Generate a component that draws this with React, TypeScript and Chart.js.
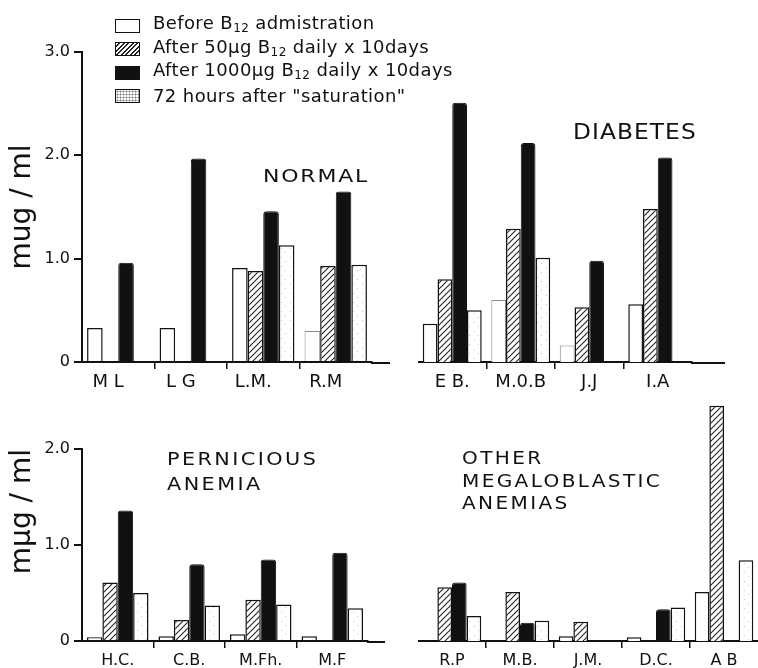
import React, { useEffect, useRef } from 'react';
import { Chart, registerables } from 'chart.js';

Chart.register(...registerables);

// ---------- data ----------
const seriesNames = [
  'Before B12 admistration',
  'After 50μg B12 daily x 10days',
  'After 1000μg B12 daily x 10days',
  '72 hours after "saturation"',
];

const normalLabels = ['M L', 'L G', 'L.M.', 'R.M'];
const normalBefore = [0.33, 0.33, 0.91, 0.3];
const normalAfter50 = [null, null, 0.88, 0.93];
const normalAfter1000 = [0.96, 1.97, 1.46, 1.65];
const normalSaturation = [null, null, 1.13, 0.94];

const diabetesLabels = ['E B.', 'M.0.B', 'J.J', 'I.A'];
const diabetesBefore = [0.37, 0.6, 0.16, 0.56];
const diabetesAfter50 = [0.8, 1.29, 0.53, 1.48];
const diabetesAfter1000 = [2.51, 2.12, 0.98, 1.98];
const diabetesSaturation = [0.5, 1.01, null, null];

const perniciousLabels = ['H.C.', 'C.B.', 'M.Fh.', 'M.F'];
const perniciousBefore = [0.04, 0.05, 0.07, 0.05];
const perniciousAfter50 = [0.61, 0.22, 0.43, null];
const perniciousAfter1000 = [1.36, 0.8, 0.85, 0.92];
const perniciousSaturation = [0.5, 0.37, 0.38, 0.34];

const otherLabels = ['R.P', 'M.B.', 'J.M.', 'D.C.', 'A B'];
const otherBefore = [null, null, 0.05, 0.04, 0.51];
const otherAfter50 = [0.56, 0.51, 0.2, null, 2.45];
const otherAfter1000 = [0.61, 0.19, null, 0.33, null];
const otherSaturation = [0.26, 0.21, null, 0.35, 0.84];

// "before" bars drawn with a faint (dotted) outline in the original
const faintBefore = ['R.M', 'M.0.B', 'J.J'];

const topTickLabels = ['0', '1.0', '2.0', '3.0'];
const bottomTickLabels = ['0', '1.0', '2.0'];
const topMax = 3;
const bottomMax = 2;
const otherMax = 2.5;
const topTitle = 'mug / ml';
const bottomTitle = 'mμg / ml';

// ---------- helpers ----------
const INK = '#111';
const FONT = "'DejaVu Sans', sans-serif";

function makeHatch(): CanvasPattern | string {
  const c = document.createElement('canvas');
  c.width = 6;
  c.height = 6;
  const x = c.getContext('2d');
  if (!x) return '#888';
  x.fillStyle = '#fff';
  x.fillRect(0, 0, 6, 6);
  x.strokeStyle = '#222';
  x.lineWidth = 1.1;
  x.beginPath();
  x.moveTo(0, 6);
  x.lineTo(6, 0);
  x.moveTo(-1, 1);
  x.lineTo(1, -1);
  x.moveTo(5, 7);
  x.lineTo(7, 5);
  x.stroke();
  return x.createPattern(c, 'repeat') || '#888';
}

function makeStipple(): CanvasPattern | string {
  const c = document.createElement('canvas');
  c.width = 9;
  c.height = 9;
  const x = c.getContext('2d');
  if (!x) return '#fff';
  x.fillStyle = '#fff';
  x.fillRect(0, 0, 9, 9);
  x.fillStyle = '#c8c8c8';
  x.fillRect(2, 3, 1, 1);
  x.fillRect(6, 7, 1, 1);
  return x.createPattern(c, 'repeat') || '#fff';
}

const axisExtend = {
  id: 'axisExtend',
  afterDraw(chart: any, _args: any, opts: any) {
    const len = opts && opts.length;
    if (!len) return;
    const { ctx, chartArea } = chart;
    ctx.save();
    ctx.strokeStyle = INK;
    ctx.lineWidth = 2;
    ctx.beginPath();
    ctx.moveTo(chartArea.right - 1, chartArea.bottom + 1);
    ctx.lineTo(chartArea.right + len, chartArea.bottom + 1);
    ctx.stroke();
    ctx.restore();
  },
};

interface PanelSpec {
  labels: string[];
  before: (number | null)[];
  after50: (number | null)[];
  after1000: (number | null)[];
  saturation: (number | null)[];
  yMax: number;
  tickLabels: string[];
  showY: boolean;
  yTitle: string;
  titleAlign: 'center' | 'end' | 'start';
  extend: number;
  padTop: number;
  padRight: number;
  xHeight: number;
  xFontSize: number;
  labelOffset: number;
}

function buildConfig(p: PanelSpec, hatch: any, stipple: any): any {
  const isFaint = (i: number) => faintBefore.includes(p.labels[i]);
  return {
    type: 'bar',
    data: {
      labels: p.labels,
      datasets: [
        {
          label: seriesNames[0],
          data: p.before,
          backgroundColor: '#fff',
          borderColor: (c: any) => (isFaint(c.dataIndex) ? '#8a8a8a' : INK),
          borderWidth: (c: any) => (isFaint(c.dataIndex) ? 1 : 1.5),
        },
        {
          label: seriesNames[1],
          data: p.after50,
          backgroundColor: hatch,
          borderColor: INK,
          borderWidth: 1.5,
        },
        {
          label: seriesNames[2],
          data: p.after1000,
          backgroundColor: INK,
          borderColor: INK,
          borderWidth: 1,
          borderRadius: { topLeft: 3, topRight: 3, bottomLeft: 0, bottomRight: 0 },
        },
        {
          label: seriesNames[3],
          data: p.saturation,
          backgroundColor: stipple,
          borderColor: INK,
          borderWidth: 1.5,
        },
      ],
    },
    options: {
      animation: false,
      responsive: false,
      devicePixelRatio: 1,
      layout: { padding: { top: p.padTop, right: p.padRight, left: 0, bottom: 0 } },
      datasets: { bar: { categoryPercentage: 0.86, barPercentage: 1.0 } },
      plugins: {
        legend: { display: false },
        tooltip: { enabled: false },
        axisExtend: { length: p.extend },
      },
      scales: {
        x: {
          type: 'category',
          offset: true,
          border: { display: true, color: INK, width: 2 },
          grid: {
            display: true,
            offset: true,
            drawOnChartArea: false,
            drawTicks: true,
            tickLength: 7,
            lineWidth: 1.5,
            color: (c: any) => (c.type === 'tick' && c.index > 0 ? INK : 'rgba(0,0,0,0)'),
          },
          ticks: {
            color: INK,
            font: { family: FONT, size: p.xFontSize },
            padding: 3,
            labelOffset: p.labelOffset,
            maxRotation: 0,
            autoSkip: false,
          },
          afterFit: (s: any) => {
            s.height = p.xHeight;
          },
        },
        y: {
          display: p.showY,
          min: 0,
          max: p.yMax,
          border: { display: true, color: INK, width: 2 },
          grid: {
            display: true,
            drawOnChartArea: false,
            drawTicks: true,
            tickLength: 8,
            lineWidth: 2,
            color: INK,
          },
          ticks: {
            stepSize: 1,
            color: INK,
            padding: 4,
            font: { family: FONT, size: 16 },
            callback: (_v: any, i: number) => p.tickLabels[i],
          },
          title: {
            display: p.showY,
            text: p.yTitle,
            color: INK,
            align: p.titleAlign,
            font: { family: FONT, size: 28 },
            padding: { top: 6, bottom: 0 },
          },
          afterFit: (s: any) => {
            s.width = p.showY ? 82 : 0;
          },
        },
      },
    },
    plugins: [axisExtend],
  };
}

const panels: { key: string; left: number; top: number; width: number; height: number; spec: PanelSpec }[] = [
  {
    key: 'normal',
    left: 0,
    top: 38,
    width: 390,
    height: 362,
    spec: {
      labels: normalLabels,
      before: normalBefore,
      after50: normalAfter50,
      after1000: normalAfter1000,
      saturation: normalSaturation,
      yMax: topMax,
      tickLabels: topTickLabels,
      showY: true,
      yTitle: topTitle,
      titleAlign: 'center',
      extend: 18,
      padTop: 14,
      padRight: 18,
      xHeight: 38,
      xFontSize: 18,
      labelOffset: -10,
    },
  },
  {
    key: 'diabetes',
    left: 418,
    top: 40,
    width: 307,
    height: 360,
    spec: {
      labels: diabetesLabels,
      before: diabetesBefore,
      after50: diabetesAfter50,
      after1000: diabetesAfter1000,
      saturation: diabetesSaturation,
      yMax: topMax,
      tickLabels: topTickLabels,
      showY: false,
      yTitle: '',
      titleAlign: 'center',
      extend: 33,
      padTop: 12,
      padRight: 33,
      xHeight: 38,
      xFontSize: 18,
      labelOffset: 0,
    },
  },
  {
    key: 'pernicious',
    left: 0,
    top: 420,
    width: 385,
    height: 248,
    spec: {
      labels: perniciousLabels,
      before: perniciousBefore,
      after50: perniciousAfter50,
      after1000: perniciousAfter1000,
      saturation: perniciousSaturation,
      yMax: bottomMax,
      tickLabels: bottomTickLabels,
      showY: true,
      yTitle: bottomTitle,
      titleAlign: 'end',
      extend: 17,
      padTop: 29,
      padRight: 17,
      xHeight: 27,
      xFontSize: 16,
      labelOffset: 0,
    },
  },
  {
    key: 'other',
    left: 418,
    top: 380,
    width: 340,
    height: 288,
    spec: {
      labels: otherLabels,
      before: otherBefore,
      after50: otherAfter50,
      after1000: otherAfter1000,
      saturation: otherSaturation,
      yMax: otherMax,
      tickLabels: bottomTickLabels,
      showY: false,
      yTitle: '',
      titleAlign: 'center',
      extend: 0,
      padTop: 21,
      padRight: 0,
      xHeight: 27,
      xFontSize: 16,
      labelOffset: 0,
    },
  },
];

const panelTitles: { lines: string[]; left: number; top: number; size: number; spacing: number; scale: number; lineHeight: number }[] = [
  { lines: ['NORMAL'], left: 263, top: 165, size: 18, spacing: 1.5, scale: 1.22, lineHeight: 22 },
  { lines: ['DIABETES'], left: 573, top: 119, size: 22, spacing: 1, scale: 1.06, lineHeight: 26 },
  { lines: ['PERNICIOUS', 'ANEMIA'], left: 167, top: 447, size: 17, spacing: 2, scale: 1.22, lineHeight: 25 },
  { lines: ['OTHER', 'MEGALOBLASTIC', 'ANEMIAS'], left: 462, top: 447, size: 17, spacing: 2, scale: 1.18, lineHeight: 22.5 },
];

const swatchStyles: React.CSSProperties[] = [
  { background: '#fff' },
  { background: 'repeating-linear-gradient(135deg, #fff 0px, #fff 2px, #222 2px, #222 3.2px)' },
  { background: INK },
  {
    backgroundColor: '#fff',
    backgroundImage: 'radial-gradient(#777 0.9px, transparent 1.1px)',
    backgroundSize: '3px 3px',
  },
];

function LegendText({ i }: { i: number }) {
  const sub = <sub style={{ fontSize: 12, verticalAlign: '-3px' }}>12</sub>;
  if (i === 0)
    return (
      <span>
        Before B{sub} admistration
      </span>
    );
  if (i === 1)
    return (
      <span>
        After 50μg B{sub} daily x 10days
      </span>
    );
  if (i === 2)
    return (
      <span>
        After 1000μg B{sub} daily x 10days
      </span>
    );
  return <span>72 hours after "saturation"</span>;
}

export default function App() {
  const refs = [useRef<HTMLCanvasElement>(null), useRef<HTMLCanvasElement>(null), useRef<HTMLCanvasElement>(null), useRef<HTMLCanvasElement>(null)];

  useEffect(() => {
    const hatch = makeHatch();
    const stipple = makeStipple();
    const charts: Chart[] = [];
    panels.forEach((pn, i) => {
      const cv = refs[i].current;
      if (!cv) return;
      charts.push(new Chart(cv, buildConfig(pn.spec, hatch, stipple)));
    });
    return () => {
      charts.forEach((c) => c.destroy());
    };
  }, []);

  return (
    <div
      style={{
        position: 'fixed',
        left: 0,
        top: 0,
        width: 758,
        height: 668,
        background: '#fff',
        overflow: 'hidden',
        fontFamily: FONT,
        color: INK,
      }}
    >
      {panels.map((pn, i) => (
        <canvas
          key={pn.key}
          ref={refs[i]}
          width={pn.width}
          height={pn.height}
          style={{ position: 'absolute', left: pn.left, top: pn.top, width: pn.width, height: pn.height }}
        />
      ))}
      {panelTitles.map((t) => (
        <div
          key={t.lines.join('-')}
          style={{
            position: 'absolute',
            left: t.left,
            top: t.top,
            fontSize: t.size,
            letterSpacing: t.spacing,
            lineHeight: `${t.lineHeight}px`,
            whiteSpace: 'nowrap',
            transform: `scaleX(${t.scale})`,
            transformOrigin: 'left top',
          }}
        >
          {t.lines.map((l) => (
            <div key={l}>{l}</div>
          ))}
        </div>
      ))}
      <div style={{ position: 'absolute', left: 115, top: 14 }}>
        {seriesNames.map((n, i) => (
          <div key={n} style={{ display: 'flex', alignItems: 'center', height: 23.5 }}>
            <div
              style={{
                width: 23,
                height: 12,
                border: `1.5px solid ${INK}`,
                marginRight: 13,
                flex: '0 0 auto',
                ...swatchStyles[i],
              }}
            />
            <div style={{ fontSize: 18, letterSpacing: 0.4, whiteSpace: 'nowrap', lineHeight: '20px' }}>
              <LegendText i={i} />
            </div>
          </div>
        ))}
      </div>
    </div>
  );
}
